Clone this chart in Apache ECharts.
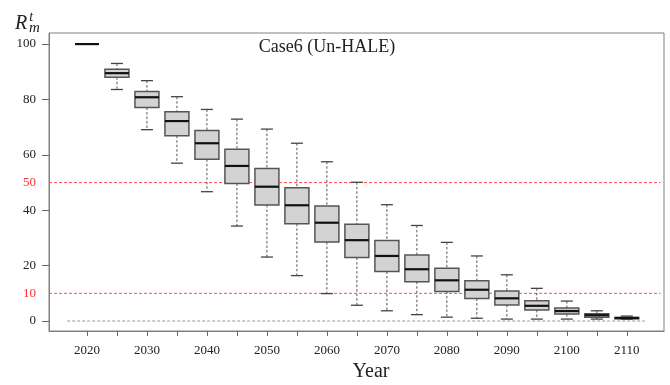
<!DOCTYPE html>
<html>
<head>
<meta charset="utf-8">
<script src="https://cdn.jsdelivr.net/npm/echarts@6/dist/echarts.min.js"></script>
<style>
  html, body { margin: 0; padding: 0; background: #fff; }
  #chart { width: 670px; height: 385px; }
</style>
</head>
<body>
<div id="chart"></div>
<script>
// Five-number summaries of R_m^t per simulated year
const years       = [2020, 2025, 2030, 2035, 2040, 2045, 2050, 2055, 2060, 2065, 2070, 2075, 2080, 2085, 2090, 2095, 2100, 2105, 2110];
const whiskerLow  = [100, 83.6, 69.1, 57.0, 46.7, 34.3, 23.1, 16.4, 9.9, 5.7, 3.7, 2.3, 1.4, 1.0, 0.7, 0.7, 0.7, 0.7, 0.6];
const quartile1   = [100, 88.0, 77.1, 66.9, 58.4, 49.7, 41.9, 35.1, 28.5, 22.9, 17.9, 14.2, 10.7, 8.1, 5.8, 4.0, 2.5, 1.4, 0.8];
const medians     = [100, 89.5, 80.8, 72.2, 64.2, 56.0, 48.5, 41.8, 35.5, 29.2, 23.5, 18.7, 14.7, 11.3, 8.2, 5.5, 3.6, 2.1, 1.1];
const quartile3   = [100, 90.9, 82.9, 75.6, 68.8, 62.0, 55.1, 48.1, 41.5, 34.9, 29.1, 23.8, 19.1, 14.5, 10.8, 7.3, 4.7, 2.6, 1.3];
const whiskerHigh = [100, 93.0, 86.8, 81.0, 76.4, 72.9, 69.3, 64.2, 57.5, 50.1, 42.0, 34.5, 28.4, 23.5, 16.7, 11.8, 7.2, 3.7, 1.8];

// Axis ticks and labels
const yTickValues  = [0, 20, 40, 60, 80, 100];
const yLabelValues = [0, 10, 20, 40, 50, 60, 80, 100];
const thresholds   = [50, 10];
const xTickValues  = [2020, 2025, 2030, 2035, 2040, 2045, 2050, 2055, 2060, 2065, 2070, 2075, 2080, 2085, 2090, 2095, 2100, 2105, 2110];
const xLabelValues = [2020, 2030, 2040, 2050, 2060, 2070, 2080, 2090, 2100, 2110];

// Axis extents
const X_MIN = 2013.67, X_MAX = 2116.2;
const Y_MIN = -3.6, Y_MAX = 104;

// Dotted zero reference, spanning the simulated years
const zeroLine = [[2016.7, 0], [2113, 0]];

const boxRows = years.map((y, i) => [y, whiskerLow[i], quartile1[i], medians[i], quartile3[i], whiskerHigh[i]]);

const SERIF = '"Liberation Serif", "DejaVu Serif", serif';

function renderBox(params, api) {
  const x = api.value(0);
  const pLow = api.coord([x, api.value(1)]);
  const pQ1 = api.coord([x, api.value(2)]);
  const pMed = api.coord([x, api.value(3)]);
  const pQ3 = api.coord([x, api.value(4)]);
  const pHigh = api.coord([x, api.value(5)]);
  const w = api.size([4, 0])[0];
  const cap = w / 2;
  const cx = pMed[0];
  const dashStyle = { stroke: '#555', lineWidth: 1, lineDash: [2.5, 2] };
  const capStyle = { stroke: '#444', lineWidth: 1.3 };
  return {
    type: 'group',
    children: [
      { type: 'line', shape: { x1: cx, y1: pHigh[1], x2: cx, y2: pQ3[1] }, style: dashStyle },
      { type: 'line', shape: { x1: cx, y1: pQ1[1], x2: cx, y2: pLow[1] }, style: dashStyle },
      { type: 'line', shape: { x1: cx - cap / 2, y1: pHigh[1], x2: cx + cap / 2, y2: pHigh[1] }, style: capStyle },
      { type: 'line', shape: { x1: cx - cap / 2, y1: pLow[1], x2: cx + cap / 2, y2: pLow[1] }, style: capStyle },
      { type: 'rect', shape: { x: cx - w / 2, y: pQ3[1], width: w, height: pQ1[1] - pQ3[1] },
        style: { fill: '#d3d3d3', stroke: '#555', lineWidth: 1.5 } },
      { type: 'line', shape: { x1: cx - w / 2, y1: pMed[1], x2: cx + w / 2, y2: pMed[1] },
        style: { stroke: '#111', lineWidth: 2.2 } }
    ]
  };
}

// Red dashed threshold lines across the full plot width
const thresholdSeries = thresholds.map(t => ({
  type: 'line',
  data: [[X_MIN, t], [X_MAX - 0.6, t]],
  symbol: 'none',
  silent: true,
  lineStyle: { color: '#ff4d4d', type: [3, 2], width: 1 },
  z: 1
}));

const chart = echarts.init(document.getElementById('chart'), null, { renderer: 'canvas' });

chart.setOption({
  animation: false,
  backgroundColor: '#fff',
  grid: {
    left: 49, right: 6, top: 33, bottom: 54,
    outerBoundsMode: 'none',
    containLabel: false,
    show: true, borderColor: '#808080', borderWidth: 1
  },
  xAxis: {
    type: 'value',
    min: X_MIN, max: X_MAX,
    name: 'Year',
    nameLocation: 'middle',
    nameGap: 30,
    nameTextStyle: { fontFamily: SERIF, fontSize: 20, color: '#222', padding: [0, 0, 0, 29] },
    splitLine: { show: false },
    axisLine: { show: true, onZero: false, lineStyle: { color: '#808080', width: 1 } },
    axisTick: { show: true, customValues: xTickValues, length: 5, lineStyle: { color: '#666' } },
    axisLabel: {
      customValues: xLabelValues, margin: 13, fontFamily: SERIF, fontSize: 13, color: '#222',
      formatter: (v) => String(Math.round(v))
    }
  },
  yAxis: {
    type: 'value',
    min: Y_MIN, max: Y_MAX,
    splitLine: { show: false },
    axisLine: { show: true, onZero: false, lineStyle: { color: '#808080', width: 1 } },
    axisTick: { show: true, customValues: yTickValues, length: 7, lineStyle: { color: '#666' } },
    axisLabel: {
      customValues: yLabelValues,
      margin: 13,
      fontFamily: SERIF,
      fontSize: 13,
      color: (v) => (thresholds.indexOf(Number(v)) >= 0 ? '#ff3030' : '#222')
    }
  },
  graphic: [
    {
      type: 'text', left: 15, top: 10,
      style: {
        text: '{r|R}{s|t}\n',
        rich: {
          r: { fontFamily: SERIF, fontStyle: 'italic', fontSize: 20, fill: '#222', verticalAlign: 'bottom' },
          s: { fontFamily: SERIF, fontStyle: 'italic', fontSize: 14, fill: '#222', padding: [0, 0, 10, 2] }
        }
      }
    },
    {
      type: 'text', left: 29, top: 21,
      style: { text: 'm', fontFamily: SERIF, fontStyle: 'italic', fontSize: 15, fill: '#222' }
    },
    {
      type: 'text', x: 327, y: 47,
      style: {
        text: 'Case6 (Un-HALE)', fontFamily: SERIF, fontSize: 18, fill: '#222',
        textAlign: 'center', textVerticalAlign: 'middle'
      }
    }
  ],
  series: [
    {
      type: 'line',
      data: zeroLine,
      symbol: 'none',
      silent: true,
      lineStyle: { color: '#999', type: [3, 2], width: 1 },
      z: 1
    },
    ...thresholdSeries,
    {
      type: 'custom',
      renderItem: renderBox,
      encode: { x: 0, y: [1, 2, 3, 4, 5] },
      data: boxRows,
      clip: false,
      z: 3
    }
  ]
});
</script>
</body>
</html>
